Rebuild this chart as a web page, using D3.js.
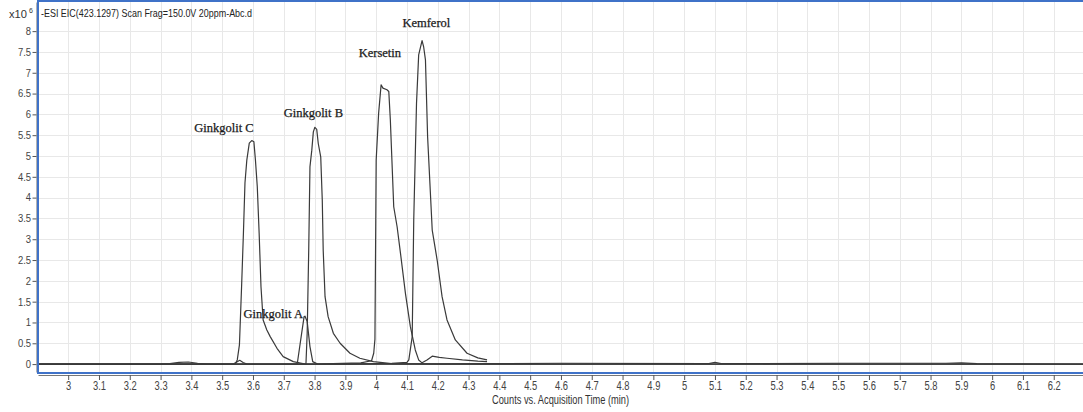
<!DOCTYPE html>
<html>
<head>
<meta charset="utf-8">
<script src="https://cdnjs.cloudflare.com/ajax/libs/d3/7.8.5/d3.min.js"></script>
<style>
  body { margin: 0; background: #fff; }
</style>
</head>
<body>
<script>
// EIC traces, [time (min), counts (x10^6)]
var ginkgolitC = [
  [2.902, 0], [3.30, 0], [3.33, 0.01], [3.36, 0.04], [3.39, 0.05], [3.42, 0.02], [3.45, 0],
  [3.542, 0], [3.549, 0.1], [3.556, 0.46], [3.563, 1.86], [3.569, 3.15], [3.574, 4.35],
  [3.580, 4.9], [3.588, 5.31], [3.596, 5.37], [3.603, 5.34], [3.608, 4.9], [3.614, 4.26],
  [3.620, 3.15], [3.626, 1.86], [3.633, 1.06], [3.645, 0.82], [3.656, 0.66], [3.678, 0.38],
  [3.698, 0.18], [3.731, 0.06], [3.77, 0], [6.295, 0]
];
var ginkgolitA = [
  [2.902, 0], [3.535, 0], [3.545, 0.04], [3.557, 0.09], [3.568, 0.04], [3.58, 0],
  [3.742, 0], [3.744, 0.02], [3.758, 0.74], [3.766, 1.14], [3.769, 1.15], [3.776, 1.02],
  [3.785, 0.42], [3.794, 0.06], [3.81, 0], [4.4, 0.01], [4.6, 0.02], [5.08, 0.01],
  [5.1, 0.04], [5.12, 0.01], [5.5, 0.02], [5.85, 0.02], [5.9, 0.03], [5.95, 0.01], [6.295, 0]
];
var ginkgolitB = [
  [2.902, 0], [3.772, 0], [3.776, 0.74], [3.781, 2.74], [3.785, 4.74], [3.791, 5.14],
  [3.796, 5.58], [3.801, 5.69], [3.807, 5.64], [3.812, 5.3], [3.820, 4.98], [3.825, 3.94],
  [3.828, 2.74], [3.834, 1.62], [3.844, 1.14], [3.861, 0.74], [3.883, 0.5], [3.915, 0.26],
  [3.947, 0.14], [3.991, 0.06], [4.05, 0.01], [4.2, 0], [6.295, 0]
];
var kersetin = [
  [2.902, 0], [3.80, 0], [3.95, 0.03], [3.985, 0.08], [3.992, 0.26], [3.996, 0.6],
  [4.000, 4.9], [4.008, 6.03], [4.016, 6.71], [4.022, 6.63], [4.035, 6.59], [4.041, 6.55],
  [4.046, 5.87], [4.057, 3.78], [4.068, 3.3], [4.079, 2.66], [4.095, 1.7], [4.111, 0.9],
  [4.127, 0.34], [4.138, 0.1], [4.149, 0.03], [4.165, 0.1], [4.182, 0.19], [4.205, 0.16],
  [4.23, 0.14], [4.28, 0.1], [4.33, 0.07], [4.36, 0.06]
];
var kemferol = [
  [2.902, 0], [3.90, 0], [4.05, 0.02], [4.10, 0.04], [4.106, 0.1], [4.117, 0.66],
  [4.122, 3.46], [4.131, 6.27], [4.138, 7.43], [4.149, 7.77], [4.154, 7.63], [4.160, 7.31],
  [4.167, 5.46], [4.182, 3.22], [4.198, 2.5], [4.214, 1.62], [4.230, 1.06], [4.257, 0.58],
  [4.295, 0.26], [4.33, 0.15], [4.36, 0.1]
];
var traces = [ginkgolitC, ginkgolitA, ginkgolitB, kersetin, kemferol];

// peak names, placed at [time, counts]
var peakNames = ["Ginkgolit C", "Ginkgolit B", "Ginkgolit A", "Kersetin", "Kemferol"];
var peakTimes = [3.506, 3.796, 3.666, 4.012, 4.163];
var peakCounts = [5.58, 5.93, 1.10, 7.39, 8.11];

var xTicks = [3, 3.1, 3.2, 3.3, 3.4, 3.5, 3.6, 3.7, 3.8, 3.9, 4, 4.1, 4.2, 4.3, 4.4, 4.5,
  4.6, 4.7, 4.8, 4.9, 5, 5.1, 5.2, 5.3, 5.4, 5.5, 5.6, 5.7, 5.8, 5.9, 6, 6.1, 6.2];
var yTicks = [0, 0.5, 1, 1.5, 2, 2.5, 3, 3.5, 4, 4.5, 5, 5.5, 6, 6.5, 7, 7.5, 8];

var chartTitle = "-ESI EIC(423.1297) Scan Frag=150.0V 20ppm-Abc.d";
var xTitle = "Counts vs. Acquisition Time (min)";

// layout
var width = 1083, height = 412;
var plot = { left: 38, right: 1083, top: 2, bottom: 372 };

var svg = d3.select("body")
  .append("svg")
  .attr("width", width)
  .attr("height", height)
  .style("font-family", "'Liberation Sans', Arial, sans-serif");

var x = d3.scaleLinear().domain([2.902, 6.295]).range([plot.left, plot.right]);
var y = d3.scaleLinear().domain([-0.19, 8.70]).range([plot.bottom, plot.top]);

// gridlines
svg.append("g")
  .selectAll("line")
  .data(xTicks)
  .enter()
  .append("line")
  .attr("x1", function(d) { return Math.round(x(d)) + 0.5; })
  .attr("x2", function(d) { return Math.round(x(d)) + 0.5; })
  .attr("y1", plot.top)
  .attr("y2", plot.bottom)
  .attr("stroke", "#e8e8e8");

svg.append("g")
  .selectAll("line")
  .data(yTicks)
  .enter()
  .append("line")
  .attr("x1", plot.left)
  .attr("x2", plot.right)
  .attr("y1", function(d) { return Math.round(y(d)) + 0.5; })
  .attr("y2", function(d) { return Math.round(y(d)) + 0.5; })
  .attr("stroke", "#e8e8e8");

// traces
svg.append("clipPath")
  .attr("id", "clip")
  .append("rect")
  .attr("x", plot.left + 1)
  .attr("y", plot.top)
  .attr("width", plot.right - plot.left)
  .attr("height", plot.bottom - plot.top - 1);

var line = d3.line()
  .x(function(d) { return x(d[0]); })
  .y(function(d) { return y(d[1]); });

svg.append("g")
  .attr("clip-path", "url(#clip)")
  .selectAll("path")
  .data(traces)
  .enter()
  .append("path")
  .attr("d", line)
  .attr("fill", "none")
  .attr("stroke", "#3a3a3a")
  .attr("stroke-width", 1.2)
  .attr("stroke-linejoin", "round");

// peak labels
svg.append("g")
  .selectAll("text")
  .data(peakNames)
  .enter()
  .append("text")
  .attr("x", function(d, i) { return x(peakTimes[i]); })
  .attr("y", function(d, i) { return y(peakCounts[i]); })
  .attr("text-anchor", "middle")
  .style("font-family", "'Liberation Serif', 'DejaVu Serif', serif")
  .style("font-size", "12.5px")
  .attr("fill", "#1a1a1a")
  .attr("stroke", "#1a1a1a")
  .attr("stroke-width", 0.25)
  .text(function(d) { return d; });

// X axis
var xAxis = svg.append("g")
  .attr("transform", "translate(0,375)")
  .call(d3.axisBottom(x).tickValues(xTicks).tickSize(5).tickSizeOuter(0)
    .tickPadding(1).tickFormat(d3.format("~g")));
xAxis.select(".domain").attr("stroke", "#777");
xAxis.selectAll(".tick line").attr("stroke", "#555");
xAxis.selectAll(".tick text")
  .style("font-size", "13px")
  .attr("fill", "#444")
  .attr("transform", "scale(0.72,1)");

// Y axis
var yAxis = svg.append("g")
  .attr("transform", "translate(36.5,0)")
  .call(d3.axisLeft(y).tickValues(yTicks).tickSize(4).tickSizeOuter(0)
    .tickPadding(2).tickFormat(d3.format("~g")));
yAxis.select(".domain").attr("stroke", "#666");
yAxis.selectAll(".tick line").attr("stroke", "#555");
yAxis.selectAll(".tick text")
  .style("font-size", "10.5px")
  .attr("fill", "#444")
  .attr("transform", "scale(0.9,1)");

// blue frame
var blue = "#3f72c8";
svg.append("line").attr("x1", plot.left).attr("x2", plot.right)
  .attr("y1", 1).attr("y2", 1).attr("stroke", blue).attr("stroke-width", 2);
svg.append("line").attr("x1", plot.left).attr("x2", plot.left)
  .attr("y1", 0).attr("y2", 374).attr("stroke", blue).attr("stroke-width", 2);
svg.append("line").attr("x1", plot.left).attr("x2", plot.right)
  .attr("y1", 373).attr("y2", 373).attr("stroke", blue).attr("stroke-width", 2);

// titles
svg.append("text")
  .attr("x", 41)
  .attr("y", 16.5)
  .attr("textLength", 211)
  .attr("lengthAdjust", "spacingAndGlyphs")
  .style("font-size", "11.5px")
  .attr("fill", "#222")
  .text(chartTitle);

svg.append("text")
  .attr("x", 9)
  .attr("y", 17.5)
  .attr("textLength", 18)
  .attr("lengthAdjust", "spacingAndGlyphs")
  .style("font-size", "10.5px")
  .attr("fill", "#333")
  .text("x10");
svg.append("text")
  .attr("x", 29)
  .attr("y", 12.5)
  .style("font-size", "7px")
  .attr("fill", "#333")
  .text("6");

svg.append("text")
  .attr("x", (plot.left + plot.right) / 2)
  .attr("y", 404)
  .attr("text-anchor", "middle")
  .attr("textLength", 137)
  .attr("lengthAdjust", "spacingAndGlyphs")
  .style("font-size", "12px")
  .attr("fill", "#333")
  .text(xTitle);
</script>
</body>
</html>
